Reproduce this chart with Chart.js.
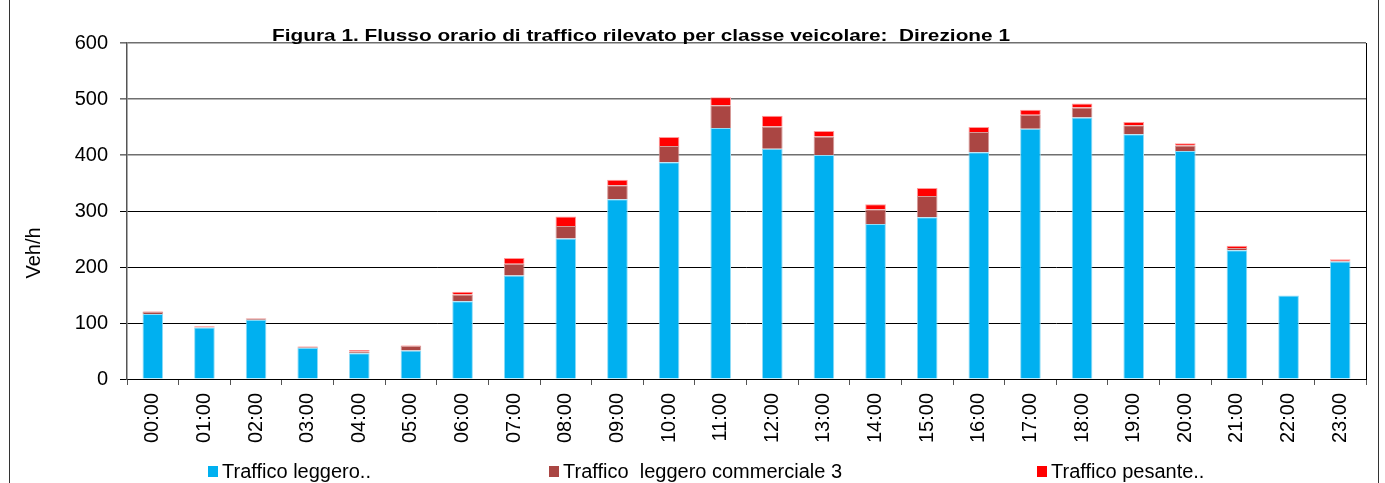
<!DOCTYPE html>
<html>
<head>
<meta charset="utf-8">
<script src="https://cdn.jsdelivr.net/npm/chart.js@4/dist/chart.umd.min.js"></script>
<style>
  html, body { margin: 0; padding: 0; background: #fff; }
  #wrap { position: relative; width: 1385px; height: 483px; }
</style>
</head>
<body>
<div id="wrap"><canvas id="chart"></canvas></div>
<script>
'use strict';

const hours = ['00:00', '01:00', '02:00', '03:00', '04:00', '05:00', '06:00', '07:00',
  '08:00', '09:00', '10:00', '11:00', '12:00', '13:00', '14:00', '15:00',
  '16:00', '17:00', '18:00', '19:00', '20:00', '21:00', '22:00', '23:00'];

const leggero = [116, 92, 106, 56, 46, 51, 139, 185, 251, 321, 387, 448,
  411, 400, 277, 289, 405, 447, 467, 437, 407, 230, 149, 210];
const commerciale = [4, 1, 2, 1, 3, 8, 12, 21, 22, 25, 29, 41,
  40, 33, 26, 38, 36, 25, 18, 16, 10, 4, 0, 1];
const pesante = [1, 1, 1, 1, 3, 1, 5, 10, 17, 10, 16, 14,
  19, 10, 9, 14, 9, 9, 7, 6, 4, 4, 0, 3];

const yTicks = [0, 100, 200, 300, 400, 500, 600];

const titleText = 'Figura 1. Flusso orario di traffico rilevato per classe veicolare:  Direzione 1';
const yTitle = 'Veh/h';

const FONT = "'Liberation Sans', Arial, sans-serif";
const legendX = [208, 549, 1037];

const decorations = {
  id: 'decorations',
  beforeDraw(chart) {
    const { ctx, width, height } = chart;
    ctx.save();
    ctx.fillStyle = '#fff';
    ctx.fillRect(0, 0, width, height);
    ctx.restore();
  },
  afterDraw(chart) {
    const { ctx, chartArea: a } = chart;
    ctx.save();

    // plot frame on the right
    ctx.strokeStyle = '#000';
    ctx.lineWidth = 1;
    ctx.beginPath();
    ctx.moveTo(Math.round(a.right) + 0.5, a.top);
    ctx.lineTo(Math.round(a.right) + 0.5, a.bottom);
    ctx.stroke();

    // outer chart frame
    ctx.strokeStyle = '#333';
    ctx.beginPath();
    ctx.moveTo(9.5, 0);
    ctx.lineTo(9.5, chart.height);
    ctx.moveTo(1378.5, 0);
    ctx.lineTo(1378.5, chart.height);
    ctx.stroke();

    // title, fitted to its width in the reference
    ctx.fillStyle = '#000';
    ctx.font = 'bold 17px ' + FONT;
    ctx.textBaseline = 'alphabetic';
    ctx.textAlign = 'left';
    const w = ctx.measureText(titleText).width;
    ctx.save();
    ctx.translate(272, 41);
    ctx.scale(738 / w, 1);
    ctx.fillText(titleText, 0, 0);
    ctx.restore();

    // y axis title
    ctx.save();
    ctx.font = '20px ' + FONT;
    ctx.translate(34, 253);
    ctx.rotate(-Math.PI / 2);
    ctx.textAlign = 'center';
    ctx.textBaseline = 'middle';
    ctx.fillText(yTitle, 0, 0);
    ctx.restore();

    // legend
    ctx.font = '20px ' + FONT;
    ctx.textBaseline = 'middle';
    chart.data.datasets.forEach((ds, i) => {
      const x = legendX[i];
      ctx.fillStyle = ds.backgroundColor;
      ctx.fillRect(x, 466, 10, 11);
      ctx.fillStyle = '#000';
      ctx.fillText(ds.label, x + 14, 472);
    });

    ctx.restore();
  }
};

new Chart(document.getElementById('chart'), {
  type: 'bar',
  data: {
    labels: hours,
    datasets: [
      {
        label: 'Traffico leggero..',
        data: leggero,
        backgroundColor: '#00B0F0',
        borderColor: '#8fdcf7',
        borderWidth: 1,
      },
      {
        label: 'Traffico  leggero commerciale 3',
        data: commerciale,
        backgroundColor: '#AA4643',
        borderColor: '#d79a98',
        borderWidth: 1,
      },
      {
        label: 'Traffico pesante..',
        data: pesante,
        backgroundColor: '#FF0000',
        borderColor: '#ff9a9a',
        borderWidth: 1,
      },
    ],
  },
  options: {
    responsive: true,
    maintainAspectRatio: false,
    animation: false,
    layout: {
      padding: { left: 0, right: 19, top: 43, bottom: 0 },
    },
    datasets: {
      bar: {
        categoryPercentage: 0.4,
        barPercentage: 1,
      },
    },
    plugins: {
      legend: { display: false },
      title: { display: false },
      tooltip: { enabled: false },
    },
    scales: {
      x: {
        stacked: true,
        offset: true,
        grid: {
          offset: true,
          drawOnChartArea: false,
          tickLength: 6,
          color: '#555',
        },
        border: { color: '#000' },
        ticks: {
          color: '#000',
          font: { family: FONT, size: 20 },
          minRotation: 90,
          maxRotation: 90,
          padding: 8,
          autoSkip: false,
        },
        afterFit: (scale) => {
          scale.height = 104;
        },
      },
      y: {
        stacked: true,
        min: 0,
        max: 600,
        afterBuildTicks: (scale) => {
          scale.ticks = yTicks.map(v => ({ value: v }));
        },
        grid: {
          tickLength: 7,
          color: ctx => (ctx.tick && ctx.tick.value >= 400 ? '#6f6f6f' : '#000'),
          lineWidth: ctx => (ctx.tick && ctx.tick.value >= 400 ? 1.6 : 1),
        },
        border: { color: '#555', width: 1.5 },
        ticks: {
          color: '#000',
          font: { family: FONT, size: 20 },
          padding: 12,
        },
        afterFit: (scale) => {
          scale.width = 127;
        },
      },
    },
  },
  plugins: [decorations],
});
</script>
</body>
</html>
